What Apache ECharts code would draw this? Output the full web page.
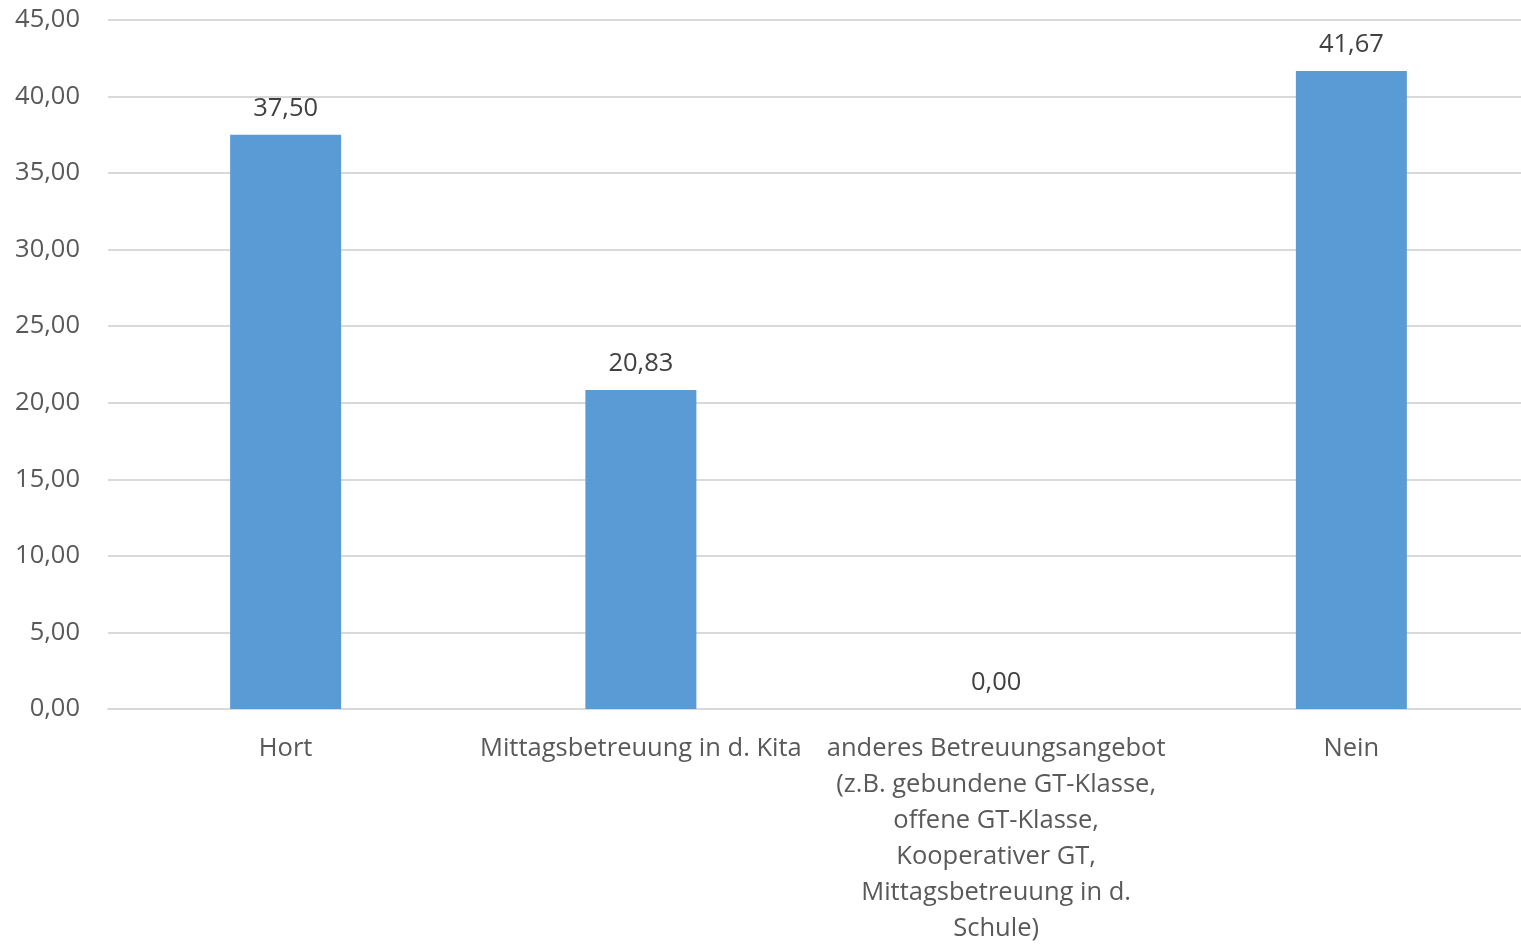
<!DOCTYPE html>
<html>
<head>
<meta charset="utf-8">
<script src="https://cdn.jsdelivr.net/npm/echarts@6/dist/echarts.min.js"></script>
<style>
html,body{margin:0;padding:0;background:#fff;}
#chart{width:1521px;height:945px;}
</style>
</head>
<body>
<div id="chart"></div>
<script>
const categories = [
  "Hort",
  "Mittagsbetreuung in d. Kita",
  "anderes Betreuungsangebot\n(z.B. gebundene GT-Klasse,\noffene GT-Klasse,\nKooperativer GT,\nMittagsbetreuung in d.\nSchule)",
  "Nein"
];
const values = [37.50, 20.83, 0.00, 41.67];
const yMin = 0, yMax = 45, yStep = 5;

const fmt = v => Number(v).toFixed(2).replace('.', ',');
const FONT = '"Open Sans", "Noto Sans", sans-serif';

const chart = echarts.init(document.getElementById('chart'), null, {renderer: 'canvas'});
chart.setOption({
  animation: false,
  backgroundColor: '#ffffff',
  grid: {left: 108, right: -8, top: 20, bottom: 236, containLabel: false, outerBoundsMode: 'none'},
  xAxis: {
    type: 'category',
    data: categories,
    axisLine: {show: true, lineStyle: {color: '#D9D9D9', width: 2}},
    axisTick: {show: false},
    axisLabel: {
      interval: 0,
      margin: 22,
      color: '#595959',
      fontFamily: FONT,
      fontSize: 25.5,
      lineHeight: 36,
      align: 'center'
    }
  },
  yAxis: {
    type: 'value',
    min: yMin, max: yMax, interval: yStep,
    axisLine: {show: false},
    axisTick: {show: false},
    splitLine: {lineStyle: {color: '#D9D9D9', width: 2}},
    axisLabel: {
      margin: 28,
      padding: [4, 0, 0, 0],
      color: '#595959',
      fontFamily: FONT,
      fontSize: 25.5,
      formatter: v => fmt(v)
    }
  },
  series: [{
    type: 'bar',
    data: values,
    barWidth: 111,
    itemStyle: {color: '#5B9BD5'},
    label: {
      show: true,
      position: 'top',
      distance: 13,
      color: '#404040',
      fontFamily: FONT,
      fontSize: 25.5,
      formatter: p => fmt(p.value)
    }
  }]
});
</script>
</body>
</html>
